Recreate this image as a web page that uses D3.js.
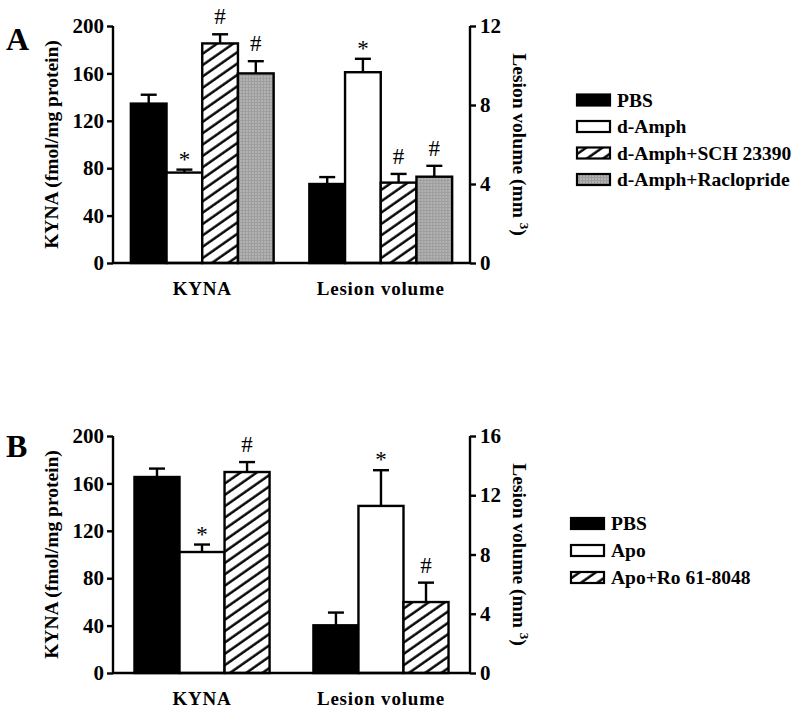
<!DOCTYPE html>
<html>
<head>
<meta charset="utf-8">
<script src="https://cdn.jsdelivr.net/npm/d3@7"></script>
<style>
  body { margin: 0; background: #fff; }
  svg { display: block; }
  text { font-family: "Liberation Serif", "Times New Roman", serif; }
</style>
</head>
<body>
<div id="chart"></div>
<script>
// ---------- DATA ----------
const groups = ["KYNA", "Lesion volume"];

// Panel A
const seriesA = ["PBS", "d-Amph", "d-Amph+SCH 23390", "d-Amph+Raclopride"];
const fillsA = ["black", "white", "hatch", "gray"];
const kynaA = [134.5, 76.3, 185.3, 160.0];
const kynaErrA = [7.5, 2.5, 7.7, 10.3];
const lesionA = [4.0, 9.66, 4.07, 4.37];
const lesionErrA = [0.35, 0.68, 0.44, 0.55];
const kynaMarksA = ["", "*", "#", "#"];
const lesionMarksA = ["", "*", "#", "#"];
const leftTicksA = [0, 40, 80, 120, 160, 200];
const rightTicksA = [0, 4, 8, 12];

// Panel B
const seriesB = ["PBS", "Apo", "Apo+Ro 61-8048"];
const fillsB = ["black", "white", "hatch"];
const kynaB = [165.4, 102.1, 169.6];
const kynaErrB = [7.1, 6.3, 8.4];
const lesionB = [3.22, 11.28, 4.79];
const lesionErrB = [0.86, 2.41, 1.31];
const kynaMarksB = ["", "*", "#"];
const lesionMarksB = ["", "*", "#"];
const leftTicksB = [0, 40, 80, 120, 160, 200];
const rightTicksB = [0, 4, 8, 12, 16];

// ---------- DRAW ----------
const W = 800, H = 714;
const svg = d3.select("#chart").append("svg").attr("width", W).attr("height", H);

const defs = svg.append("defs");
const hatch = defs.append("pattern").attr("id", "hatch")
  .attr("patternUnits", "userSpaceOnUse").attr("width", 9.3).attr("height", 9.3)
  .attr("patternTransform", "rotate(55)");
hatch.append("rect").attr("width", 9.3).attr("height", 9.3).attr("fill", "white");
hatch.append("line").attr("x1", 1.5).attr("y1", 0).attr("x2", 1.5).attr("y2", 9.3)
  .attr("stroke", "black").attr("stroke-width", 2.4);

const grayPat = defs.append("pattern").attr("id", "grayPat")
  .attr("patternUnits", "userSpaceOnUse").attr("width", 3).attr("height", 3);
grayPat.append("rect").attr("width", 3).attr("height", 3).attr("fill", "#b4b4b4");
grayPat.append("rect").attr("width", 1).attr("height", 3).attr("fill", "#999");
grayPat.append("rect").attr("width", 3).attr("height", 1).attr("fill", "#9e9e9e");

function fillOf(k) {
  if (k === "black") return "black";
  if (k === "white") return "white";
  if (k === "hatch") return "url(#hatch)";
  return "url(#grayPat)";
}

function drawPanel(cfg) {
  const g = svg.append("g");
  const x0 = d3.scaleBand().domain(groups).range([113, 470])
    .paddingInner(cfg.padInner).paddingOuter(cfg.padOuter);
  const x1 = d3.scaleBand().domain(cfg.series).range([0, x0.bandwidth()]);
  const yL = d3.scaleLinear().domain([0, cfg.leftTicks[cfg.leftTicks.length - 1]]).range(cfg.yRange);
  const yR = d3.scaleLinear().domain([0, cfg.rightTicks[cfg.rightTicks.length - 1]]).range(cfg.yRange);

  const sets = [
    { grp: groups[0], vals: cfg.kyna, errs: cfg.kynaErr, marks: cfg.kynaMarks, y: yL },
    { grp: groups[1], vals: cfg.lesion, errs: cfg.lesionErr, marks: cfg.lesionMarks, y: yR }
  ];

  sets.forEach(s => {
    const gg = g.append("g").attr("transform", `translate(${x0(s.grp)},0)`);
    const data = cfg.series.map((name, i) => ({ name, v: s.vals[i], e: s.errs[i], m: s.marks[i], f: cfg.fills[i] }));
    gg.selectAll("line.err").data(data).join("line").attr("class", "err")
      .attr("x1", d => x1(d.name) + x1.bandwidth() / 2).attr("x2", d => x1(d.name) + x1.bandwidth() / 2)
      .attr("y1", d => s.y(d.v)).attr("y2", d => s.y(d.v + d.e))
      .attr("stroke", "black").attr("stroke-width", 2.4);
    gg.selectAll("line.cap").data(data).join("line").attr("class", "cap")
      .attr("x1", d => x1(d.name) + x1.bandwidth() / 2 - 8).attr("x2", d => x1(d.name) + x1.bandwidth() / 2 + 8)
      .attr("y1", d => s.y(d.v + d.e)).attr("y2", d => s.y(d.v + d.e))
      .attr("stroke", "black").attr("stroke-width", 2.4);
    gg.selectAll("rect.bar").data(data).join("rect").attr("class", "bar")
      .attr("x", d => x1(d.name)).attr("width", x1.bandwidth())
      .attr("y", d => s.y(d.v)).attr("height", d => s.y(0) - s.y(d.v))
      .attr("fill", d => fillOf(d.f)).attr("stroke", "black").attr("stroke-width", 2.4);
    gg.selectAll("text.mark").data(data.filter(d => d.m)).join("text").attr("class", "mark")
      .attr("x", d => x1(d.name) + x1.bandwidth() / 2)
      .attr("y", d => s.y(d.v + d.e) - (d.m === "*" ? 3 : 10))
      .attr("text-anchor", "middle").attr("font-size", 23)
      .text(d => d.m);
  });

  const axL = g.append("g").attr("transform", "translate(113,0)")
    .call(d3.axisLeft(yL).tickValues(cfg.leftTicks).tickSize(6).tickPadding(3).tickFormat(d3.format("d")));
  const axR = g.append("g").attr("transform", "translate(470,0)")
    .call(d3.axisRight(yR).tickValues(cfg.rightTicks).tickSize(6).tickPadding(4).tickFormat(d3.format("d")));
  [axL, axR].forEach(ax => {
    ax.select(".domain").attr("stroke", "black").attr("stroke-width", 2.4)
      .attr("d", `M0,${cfg.yRange[0]}V${cfg.yRange[1]}`);
    ax.selectAll(".tick line").attr("stroke", "black").attr("stroke-width", 2.4);
    ax.selectAll(".tick text").attr("font-family", "Liberation Serif").attr("font-weight", "bold")
      .attr("font-size", 21).attr("fill", "black");
  });
  g.append("line").attr("x1", 113).attr("x2", 470).attr("y1", cfg.yRange[0]).attr("y2", cfg.yRange[0])
    .attr("stroke", "black").attr("stroke-width", 2.4);

  g.selectAll("text.cat").data(groups).join("text").attr("class", "cat")
    .attr("x", d => x0(d) + x0.bandwidth() / 2).attr("y", cfg.yRange[0] + 32)
    .attr("text-anchor", "middle").attr("font-weight", "bold").attr("font-size", 19)
    .attr("letter-spacing", 0.8).text(d => d);

  const midY = (cfg.yRange[0] + cfg.yRange[1]) / 2;
  g.append("text").attr("transform", `translate(58,${midY}) rotate(-90)`)
    .attr("text-anchor", "middle").attr("font-weight", "bold").attr("font-size", 19.5)
    .text("KYNA (fmol/mg protein)");
  const rt = g.append("text").attr("transform", `translate(513,${midY}) rotate(90)`)
    .attr("text-anchor", "middle").attr("font-weight", "bold").attr("font-size", 19.5);
  rt.append("tspan").text("Lesion volume (mm ");
  rt.append("tspan").attr("font-size", 13).attr("baseline-shift", "super").text("3");
  rt.append("tspan").text(")");

  g.append("text").attr("x", 6).attr("y", cfg.letterY).attr("font-weight", "bold")
    .attr("font-size", 32).text(cfg.letter);

  const lg = g.append("g");
  cfg.series.forEach((name, i) => {
    const cy = cfg.legY + i * cfg.legStep;
    lg.append("rect").attr("x", cfg.legX).attr("y", cy - 5.5).attr("width", 33).attr("height", 11)
      .attr("fill", fillOf(cfg.fills[i])).attr("stroke", "black").attr("stroke-width", 2.2);
    lg.append("text").attr("x", cfg.legX + 40).attr("y", cy + 6.5)
      .attr("font-weight", "bold").attr("font-size", 19.5).text(name);
  });
}

drawPanel({
  letter: "A", letterY: 50, series: seriesA, fills: fillsA,
  kyna: kynaA, kynaErr: kynaErrA, lesion: lesionA, lesionErr: lesionErrA,
  kynaMarks: kynaMarksA, lesionMarks: lesionMarksA,
  leftTicks: leftTicksA, rightTicks: rightTicksA,
  yRange: [263, 26], padInner: 0.2, padOuter: 0.1,
  legX: 577, legY: 100, legStep: 26.5
});

drawPanel({
  letter: "B", letterY: 457, series: seriesB, fills: fillsB,
  kyna: kynaB, kynaErr: kynaErrB, lesion: lesionB, lesionErr: lesionErrB,
  kynaMarks: kynaMarksB, lesionMarks: lesionMarksB,
  leftTicks: leftTicksB, rightTicks: rightTicksB,
  yRange: [673, 436], padInner: 0.245, padOuter: 0.12,
  legX: 571, legY: 523.5, legStep: 27
});
</script>
</body>
</html>
